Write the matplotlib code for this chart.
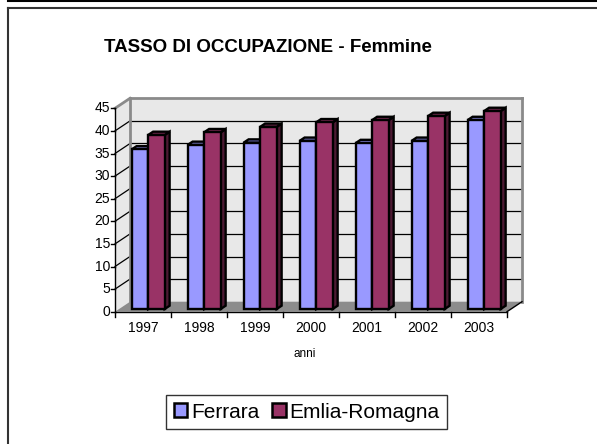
import matplotlib
matplotlib.use("Agg")
import matplotlib.pyplot as plt
from matplotlib.patches import Polygon, Patch
from matplotlib.lines import Line2D
from matplotlib.transforms import ScaledTranslation
import numpy as np

plt.rcParams['font.family'] = ['Liberation Sans', 'DejaVu Sans']

# ---- data ----
years = ['1997', '1998', '1999', '2000', '2001', '2002', '2003']
ferrara = [35.3, 36.3, 36.8, 37.2, 36.7, 37.2, 41.8]
emilia = [38.5, 39.1, 40.3, 41.3, 41.8, 42.7, 43.8]
series_names = ['Ferrara', 'Emlia-Romagna']
y_ticks = [0, 5, 10, 15, 20, 25, 30, 35, 40, 45]
title = 'TASSO DI OCCUPAZIONE - Femmine'
xlabel = 'anni'

# ---- style ----
front_cols = ['#9999FF', '#993366']
top_cols = ['#7A7ACC', '#7A2952']
side_cols = ['#4C4C80', '#4D1A33']
W, H = 597, 444
DX, DY = 15.0, 10.0          # depth offset in pixels
D0, D1 = 0.27, 0.60          # bar depth range (fraction)
BAR_X0, BAR_W = 0.225, 0.295

fig = plt.figure(figsize=(W / 100, H / 100), dpi=100)
fig.patch.set_facecolor('white')

left, right, ybot, ytop = 115, 507, 311.7, 108.3
ax = fig.add_axes([left / W, (H - ybot) / H, (right - left) / W, (ybot - ytop) / H])
ax.set_xlim(0, len(years))
ax.set_ylim(0, max(y_ticks))
ax.axis('off')

fig.canvas.draw()
T = ax.transData
Ti = T.inverted()


def P(x, y, d, ox=0.0, oy=0.0):
    px, py = T.transform((x, y))
    return tuple(Ti.transform((px + d * DX + ox, py + d * DY + oy)))


def poly(pts, fc, ec, lw, z):
    ax.add_patch(Polygon(pts, closed=True, facecolor=fc, edgecolor=ec,
                         linewidth=lw, zorder=z, clip_on=False, joinstyle='miter'))


def line(p, q, color, lw, z):
    ax.add_line(Line2D([p[0], q[0]], [p[1], q[1]], color=color, linewidth=lw,
                       zorder=z, clip_on=False))


n = len(years)
ymax = max(y_ticks)

# walls
poly([P(0, 0, 1), P(n, 0, 1), P(n, ymax, 1), P(0, ymax, 1)], '#E8E8E8', 'none', 0, 1)
poly([P(0, 0, 0), P(0, 0, 1), P(0, ymax, 1), P(0, ymax, 0)], '#E8E8E8', 'none', 0, 1)
# floor
poly([P(0, 0, 0), P(n, 0, 0), P(n, 0, 1), P(0, 0, 1)], '#8C8C8C', 'none', 0, 2)

# gridlines
for v in y_ticks[1:-1]:
    line(P(0, v, 1), P(n, v, 1), 'black', 0.9, 2)
    line(P(0, v, 0), P(0, v, 1), 'black', 0.9, 2)

# wall borders
gray = '#8A8A8A'
line(P(0, ymax, 1), P(n, ymax, 1), gray, 2.0, 3)
line(P(n, 0, 1), P(n, ymax, 1), gray, 2.0, 3)
line(P(0, 0, 1), P(0, ymax, 1), gray, 2.0, 3)
line(P(0, ymax, 0), P(0, ymax, 1), gray, 2.0, 3)

# bars
z = 10
for i in range(n):
    for j, vals in enumerate([ferrara, emilia]):
        v = vals[i]
        x0 = i + BAR_X0 + j * BAR_W
        x1 = x0 + BAR_W
        poly([P(x1, 0, D0), P(x1, 0, D1), P(x1, v, D1), P(x1, v, D0)], side_cols[j], 'black', 1.7, z)
        poly([P(x0, v, D0), P(x1, v, D0), P(x1, v, D1), P(x0, v, D1)], top_cols[j], 'black', 1.7, z)
        poly([P(x0, 0, D0), P(x1, 0, D0), P(x1, v, D0), P(x0, v, D0)], front_cols[j], 'black', 1.7, z)
        z += 1

# axes lines
line((0, 0), (0, ymax), 'black', 1.0, 50)
line((0, 0), (n, 0), 'black', 1.0, 50)
line(P(n, 0, 0), P(n, 0, 1), 'black', 1.0, 50)

for v in y_ticks:
    line(P(0, v, 0), P(0, v, 0, ox=-4), 'black', 1.0, 50)
    ax.text(0, v, str(v), transform=T + ScaledTranslation(-5 / 100, 0, fig.dpi_scale_trans),
            ha='right', va='center', fontsize=10, color='black')

for i in range(n + 1):
    line(P(i, 0, 0), P(i, 0, 0, oy=-5), 'black', 1.0, 50)

lab_off = ScaledTranslation(0, -16.6 / 100, fig.dpi_scale_trans)
for i, yl in enumerate(years):
    ax.text(i + 0.5, 0, yl, transform=T + lab_off, ha='center', va='center',
            fontsize=10, color='black')

fig.text(305 / W, 1 - 354 / H, xlabel, ha='center', va='center', fontsize=8.5)
fig.text(268 / W, 1 - 48 / H, title, ha='center', va='center', fontsize=13.5,
         fontweight='bold')

handles = [Patch(facecolor=front_cols[k], edgecolor='black', linewidth=1.8,
                 label=series_names[k]) for k in range(2)]
leg = fig.legend(handles=handles, loc='center', bbox_to_anchor=(306.7 / W, 1 - 412 / H),
                 ncol=2, fontsize=15, frameon=True, fancybox=False, shadow=False,
                 handlelength=0.65, handleheight=0.65, handletextpad=0.2,
                 columnspacing=0.6, borderpad=0.35, borderaxespad=0)
leg.get_frame().set_edgecolor('black')
leg.get_frame().set_linewidth(1.0)

# outer frame lines
fig.add_artist(Line2D([8 / W, 1], [1 - 1.5 / H, 1 - 1.5 / H], transform=fig.transFigure,
                      color='black', lw=1.5))
fig.add_artist(Line2D([8 / W, 1], [1 - 8.5 / H, 1 - 8.5 / H], transform=fig.transFigure,
                      color='#333333', lw=1.5))
fig.add_artist(Line2D([8 / W, 8 / W], [0, 1 - 8.5 / H], transform=fig.transFigure,
                      color='#333333', lw=1.5))

fig.savefig('out.png', dpi=100)
